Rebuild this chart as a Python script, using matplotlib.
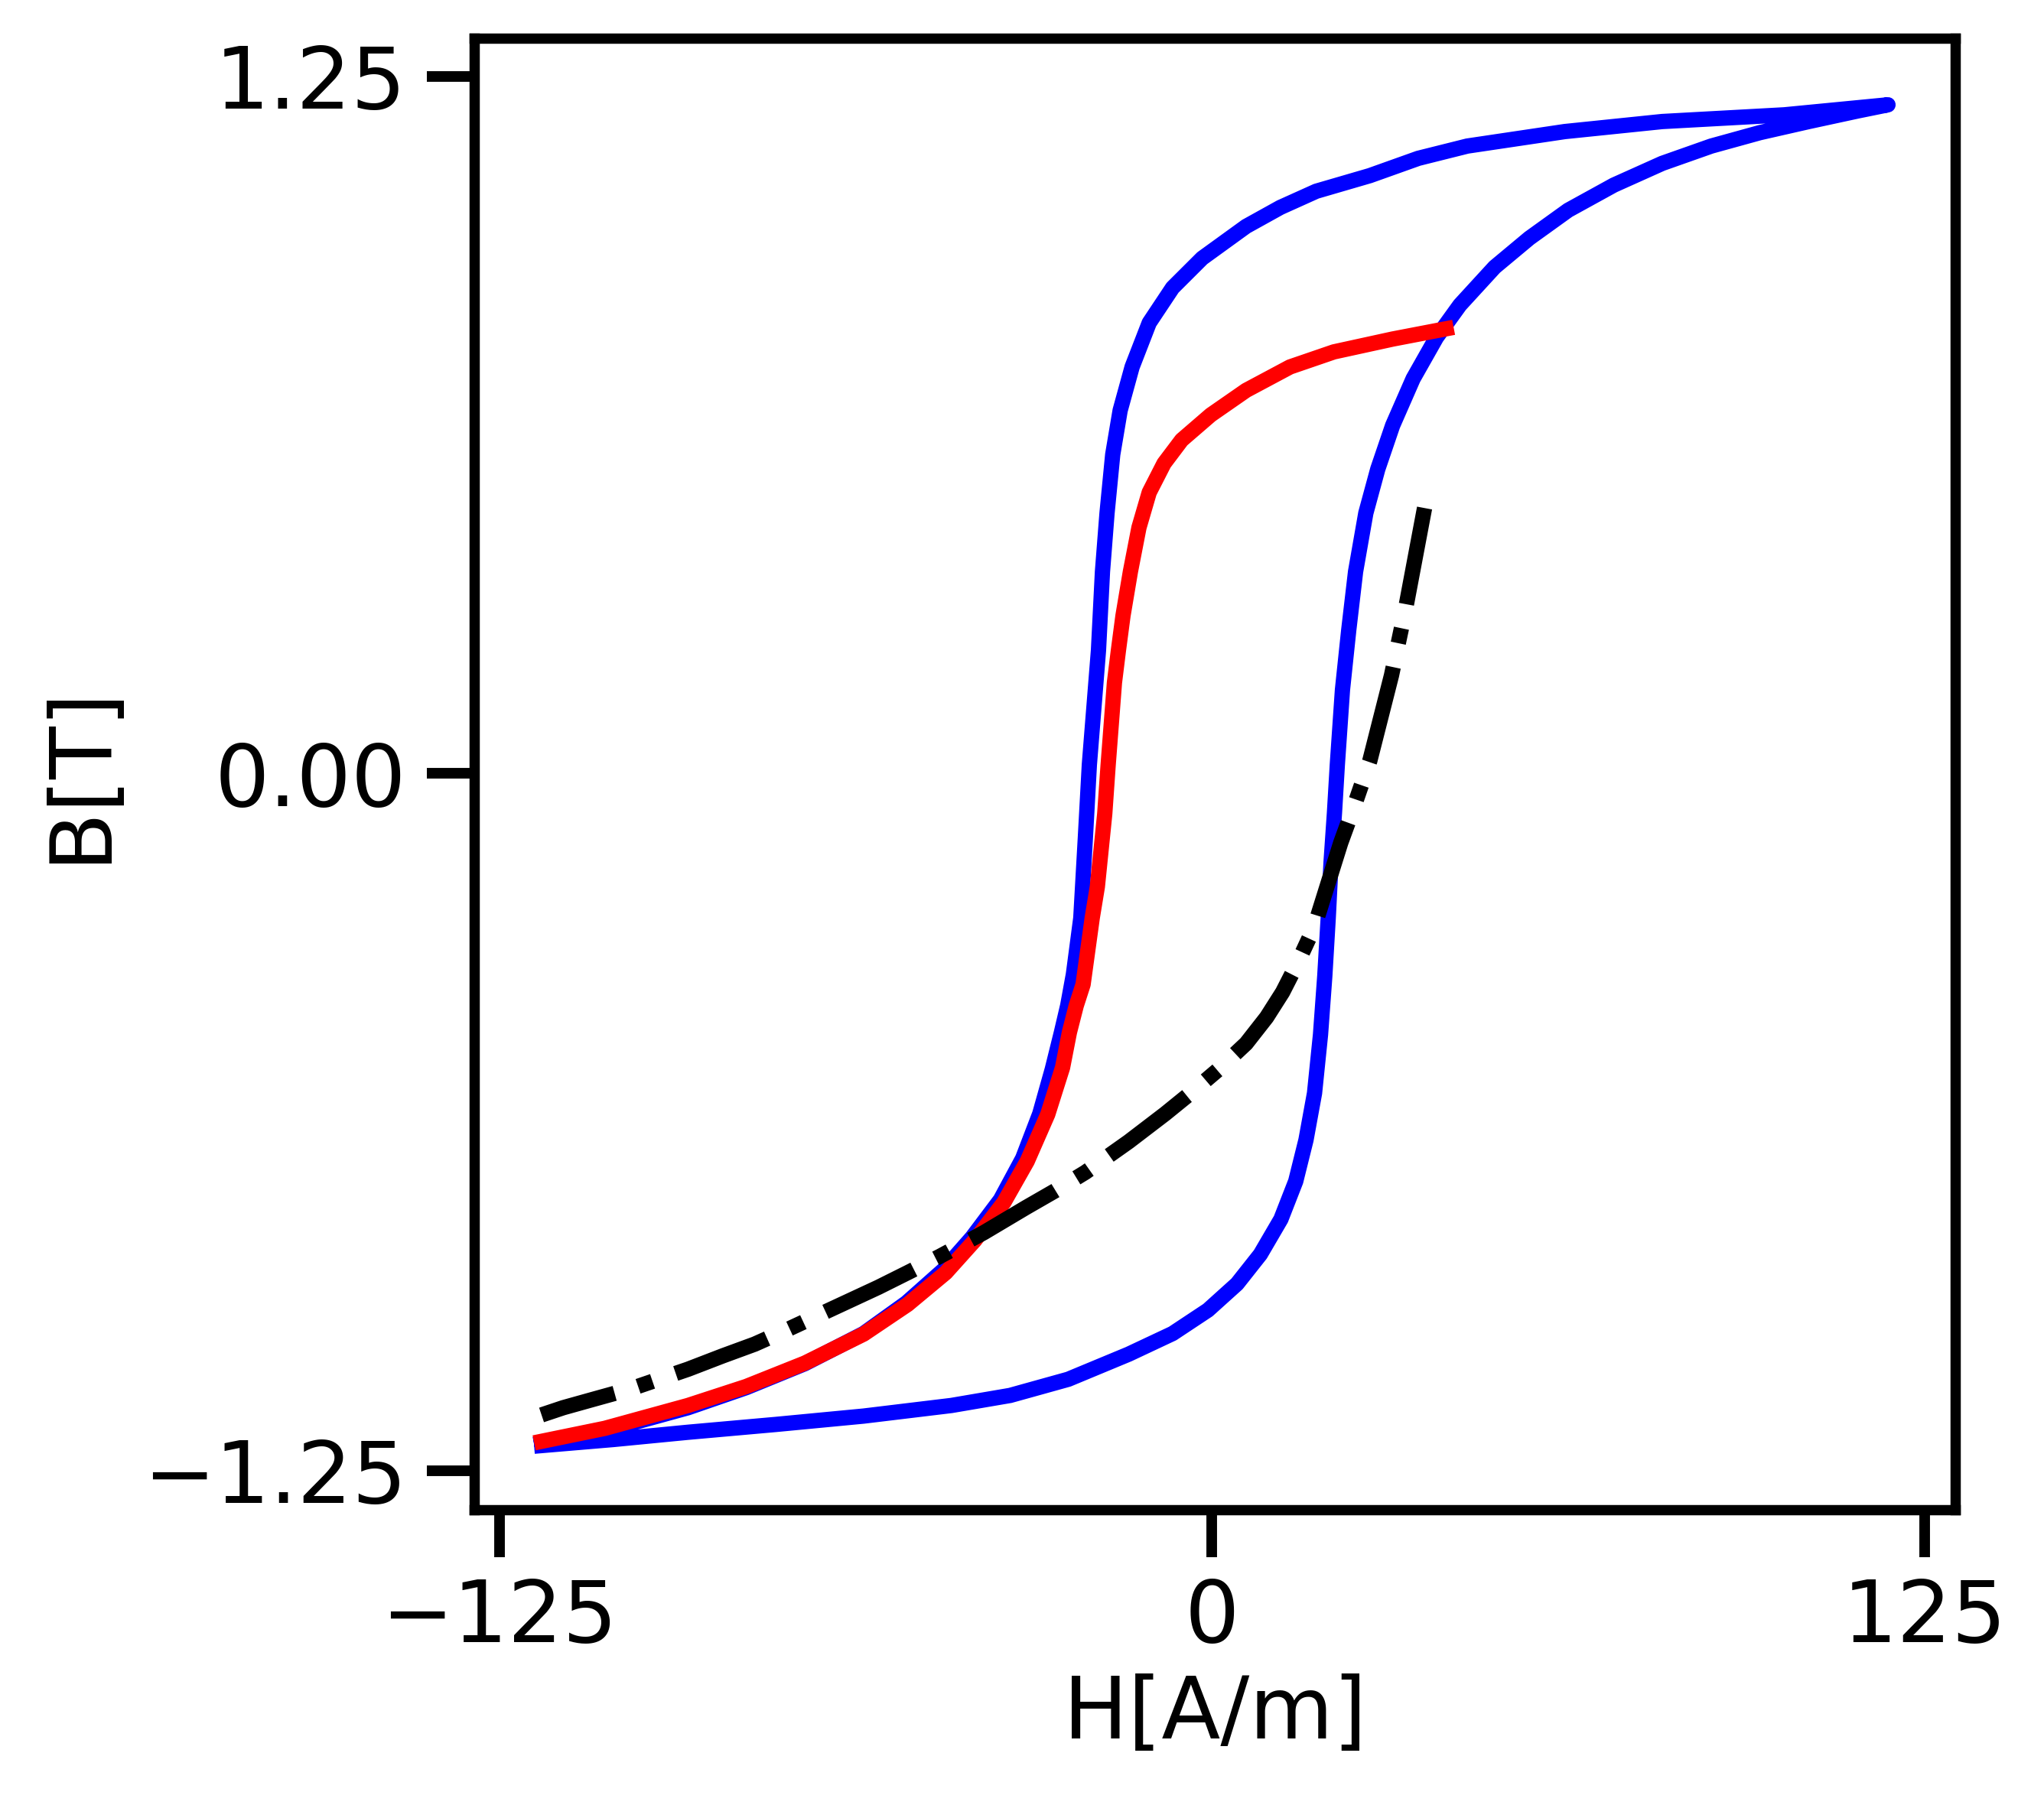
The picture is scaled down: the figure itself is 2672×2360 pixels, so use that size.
import matplotlib
matplotlib.use("Agg")
import matplotlib.pyplot as plt

# Major loop, ascending branch (lower-left -> upper-right)
h_ascending = [-118.9, -105.0, -91.9, -76.5, -61.1, -45.7, -35.4, -25.2, -14.6, -6.9, -0.7,
               4.4, 8.5, 12.1, 14.7, 16.5, 18.0, 19.05, 19.8, 20.4, 20.9, 21.5, 22.0, 22.9,
               24.0, 25.2, 27.0, 29.1, 31.7, 35.3, 39.4, 43.5, 49.6, 55.7, 62.5, 70.5, 79.0,
               87.6, 96.1, 104.7, 113.3, 118.6]
b_ascending = [-1.206, -1.194, -1.181, -1.167, -1.152, -1.133, -1.115, -1.086, -1.041, -1.004,
               -0.962, -0.915, -0.862, -0.799, -0.731, -0.657, -0.573, -0.468, -0.363, -0.259,
               -0.159, -0.070, 0.016, 0.150, 0.257, 0.362, 0.467, 0.546, 0.624, 0.708, 0.782,
               0.840, 0.908, 0.960, 1.010, 1.055, 1.094, 1.125, 1.149, 1.169, 1.188, 1.199]

# Major loop, descending branch (upper-right -> lower-left)
h_descending = [118.6, 100.4, 79.0, 61.9, 44.8, 36.2, 27.7, 18.3, 12.0, 6.0, -1.7, -6.9, -11.0,
                -14.0, -16.1, -17.4, -18.4, -19.2, -19.9, -20.9, -21.5, -22.2, -23.0, -24.3,
                -25.3, -26.4, -28.0, -30.2, -33.2, -37.1, -42.1, -47.1, -53.6, -61.1, -71.4,
                -81.7, -91.9, -106.5, -118.9]
b_descending = [1.199, 1.181, 1.169, 1.151, 1.125, 1.103, 1.072, 1.044, 1.015, 0.981, 0.924,
                0.871, 0.808, 0.729, 0.651, 0.572, 0.467, 0.362, 0.221, 0.093, 0.016, -0.115,
                -0.259, -0.360, -0.416, -0.464, -0.530, -0.610, -0.690, -0.764, -0.832, -0.890,
                -0.949, -1.004, -1.058, -1.101, -1.137, -1.178, -1.203]

# Red curve
h_red = [-118.9, -106.5, -91.9, -81.7, -71.4, -61.1, -53.4, -46.7, -41.6, -36.5, -32.4, -28.8,
         -26.2, -25.0, -23.8, -22.6, -21.0, -20.1, -18.8, -18.2, -17.1, -16.4, -15.6, -14.3,
         -12.8, -11.0, -8.4, -5.3, -0.2, 6.0, 13.7, 21.4, 31.7, 42.4]
b_red = [-1.200, -1.174, -1.133, -1.099, -1.057, -1.005, -0.952, -0.895, -0.837, -0.769, -0.695,
         -0.611, -0.527, -0.464, -0.416, -0.378, -0.259, -0.203, -0.072, 0.016, 0.163, 0.221,
         0.283, 0.362, 0.441, 0.504, 0.556, 0.598, 0.643, 0.687, 0.729, 0.756, 0.779, 0.800]

# Black dash-dot curve (upper end -> lower-left)
h_black = [37.3, 34.0, 31.5, 27.7, 25.1, 22.6, 18.0, 15.1, 12.4, 9.6, 6.0, 1.1, -3.5, -8.2,
           -14.6, -22.2, -27.5, -32.6, -40.0, -47.8, -53.4, -58.5, -74.5, -80.2, -85.8, -91.9,
           -102.2, -108.2, -113.8, -117.6]
b_black = [0.476, 0.297, 0.176, 0.023, -0.054, -0.124, -0.274, -0.338, -0.392, -0.437, -0.484,
           -0.531, -0.571, -0.610, -0.660, -0.715, -0.748, -0.778, -0.823, -0.866, -0.895,
           -0.921, -0.997, -1.023, -1.044, -1.068, -1.104, -1.121, -1.137, -1.150]

x_ticks = [-125, 0, 125]
y_ticks = [-1.25, 0.0, 1.25]
x_tick_labels = ["\u2212125", "0", "125"]
y_tick_labels = ["\u22121.25", "0.00", "1.25"]
x_label = "H[A/m]"
y_label = "B[T]"

plt.rcParams['font.family'] = ['DejaVu Sans']

fig = plt.figure(figsize=(26.72, 23.6), dpi=100)
ax = fig.add_axes([620 / 2672, 1 - 1974 / 2360, (2556 - 620) / 2672, (1974 - 49.5) / 2360])

lw = 14.4
ax.plot(h_ascending + h_descending[1:], b_ascending + b_descending[1:],
        color='blue', lw=lw, solid_joinstyle='round', solid_capstyle='butt')
ax.plot(h_red, b_red, color='red', lw=lw, solid_capstyle='butt', solid_joinstyle='round')
ax.plot(h_black, b_black, color='black', lw=lw, linestyle='-.', dash_capstyle='butt',
        dash_joinstyle='round')

ax.set_xlim(-129.4, 130.4)
ax.set_ylim(-1.320, 1.319)
ax.set_xticks(x_ticks)
ax.set_yticks(y_ticks)
ax.set_xticklabels(x_tick_labels)
ax.set_yticklabels(y_tick_labels)

for s in ax.spines.values():
    s.set_linewidth(9.7)
ax.tick_params(axis='both', which='major', length=44.6, width=10, pad=19, labelsize=81,
               direction='out')
ax.set_xlabel(x_label, fontsize=81, labelpad=13)
ax.set_ylabel(y_label, fontsize=81, labelpad=20)

fig.savefig("out.png", dpi=100)
